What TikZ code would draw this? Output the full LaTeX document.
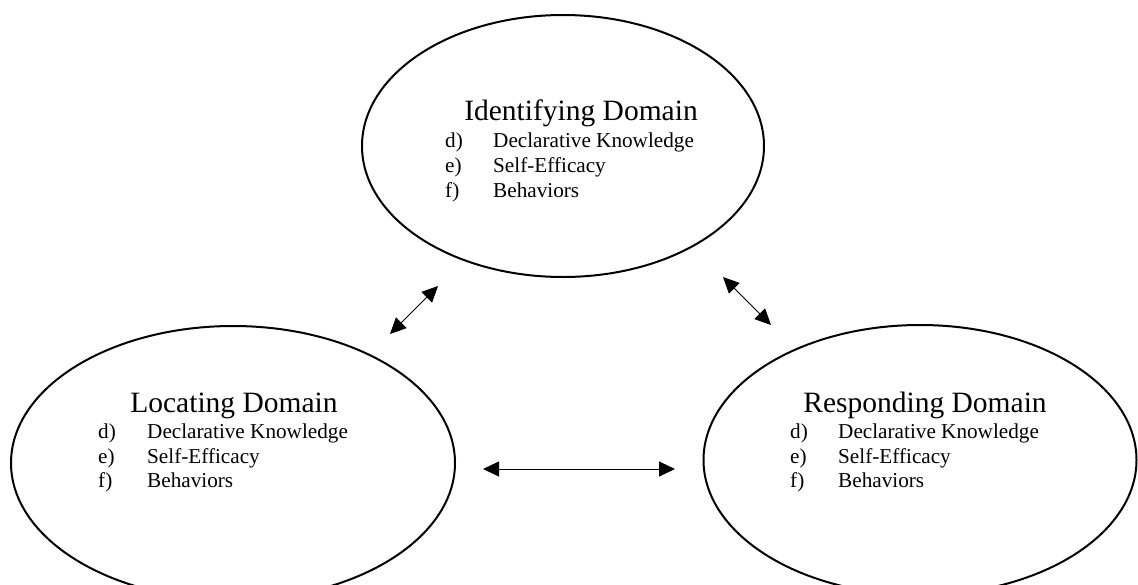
\documentclass[tikz,border=0pt]{standalone}
\usepackage{fontspec}
\setmainfont{Liberation Serif}
\usetikzlibrary{shapes.geometric,arrows.meta}
\begin{document}
\begin{tikzpicture}[x=1pt,y=-1pt,
  domainbox/.style={draw,ellipse,line width=2pt,inner sep=0pt},
  ttl/.style={anchor=base,inner sep=0pt,font=\fontsize{29.5}{30}\selectfont},
  itm/.style={anchor=base west,inner sep=0pt,font=\fontsize{21.2}{22}\selectfont},
  link/.style={line width=1pt,{Triangle[length=16pt,width=15pt]}-{Triangle[length=16pt,width=15pt]}}]
\useasboundingbox (0,0) rectangle (1138,584);
% ellipses
\node[domainbox,minimum width=402pt,minimum height=262pt] (ident) at (563,146) {};
\node[domainbox,minimum width=444pt,minimum height=274pt] (locat) at (233,463) {};
\node[domainbox,minimum width=433pt,minimum height=270pt] (respo) at (920,460) {};
% identifying text
\node[ttl] (identT) at (581,120) {Identifying Domain};
\node[itm] (identD) at (445,147) {d)};
\node[itm] (identDt) at (493,147) {Declarative Knowledge};
\node[itm] (identE) at (445,172) {e)};
\node[itm] (identEt) at (493,172) {Self-Efficacy};
\node[itm] (identF) at (445,197) {f)};
\node[itm] (identFt) at (493,197) {Behaviors};
% locating text
\node[ttl] (locatT) at (234,412) {Locating Domain};
\node[itm] (locatD) at (98,438) {d)};
\node[itm] (locatDt) at (147,438) {Declarative Knowledge};
\node[itm] (locatE) at (98,463) {e)};
\node[itm] (locatEt) at (147,463) {Self-Efficacy};
\node[itm] (locatF) at (98,487) {f)};
\node[itm] (locatFt) at (147,487) {Behaviors};
% responding text
\node[ttl] (respoT) at (925,412) {Responding Domain};
\node[itm] (respoD) at (790,438) {d)};
\node[itm] (respoDt) at (838,438) {Declarative Knowledge};
\node[itm] (respoE) at (790,463) {e)};
\node[itm] (respoEt) at (838,463) {Self-Efficacy};
\node[itm] (respoF) at (790,487) {f)};
\node[itm] (respoFt) at (838,487) {Behaviors};
% connectors
\coordinate (a1) at (390,334);
\coordinate (a2) at (438,286);
\coordinate (b1) at (723,277);
\coordinate (b2) at (771,325);
\coordinate (c1) at (483,469);
\coordinate (c2) at (675,469);
\draw[link] (a1) -- (a2);
\draw[link] (b1) -- (b2);
\draw[link] (c1) -- (c2);
\end{tikzpicture}
\end{document}
